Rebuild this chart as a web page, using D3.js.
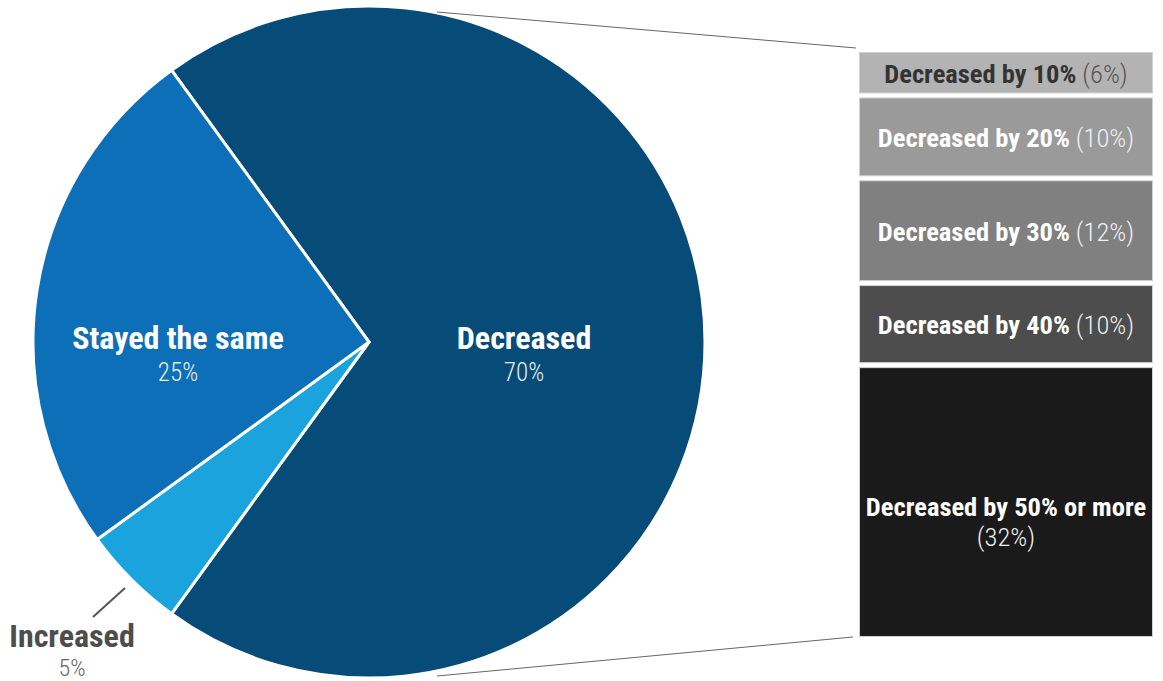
<!DOCTYPE html>
<html>
<head>
<meta charset="utf-8">
<script src="https://cdn.jsdelivr.net/npm/d3@7"></script>
<style>
  html, body { margin: 0; padding: 0; background: #fff; }
  svg text { font-family: "Roboto Condensed", "Liberation Sans Narrow", "DejaVu Sans Condensed", sans-serif; }
  .light { font-family: "Roboto Condensed", "Liberation Sans Narrow", sans-serif; font-weight: 300; }
</style>
</head>
<body>
<div id="chart"></div>
<script>
// Datos del pie
const pieLabels = ["Decreased", "Increased", "Stayed the same"];
const pieValues = [70, 5, 25];
const pieColors = ["#074b78", "#1ba3dd", "#0c6fb8"];

// Desglose de "Decreased"
const barLabels = ["Decreased by 10%", "Decreased by 20%", "Decreased by 30%", "Decreased by 40%", "Decreased by 50% or more"];
const barPct = [6, 10, 12, 10, 32];
const barShares = [5.1, 9.7, 12.4, 9.6, 33.2];
const barColors = ["#b3b3b3", "#9a9a9a", "#808080", "#4d4d4d", "#1a1a1a"];

const W = 1163, H = 681;
const cx = 369, cy = 342, r = 336;

const svg = d3.select("#chart").append("svg")
    .attr("width", W).attr("height", H);

// Pie: "Decreased" centrado a las 3 en punto
const startA = Math.PI / 2 - (pieValues[0] / 100) * Math.PI;
const pie = d3.pie().sort(null).value(d => d)
    .startAngle(startA).endAngle(startA + 2 * Math.PI);
const arcs = pie(pieValues);
const arc = d3.arc().innerRadius(0).outerRadius(r);

// Lineas de conexion hacia las cajas
const bx0 = 859, bx1 = 1153, by0 = 52, by1 = 637, gap = 4;
const g = svg.append("g").attr("transform", `translate(${cx},${cy})`);

svg.append("line")
    .attr("x1", 437).attr("y1", 12).attr("x2", 856).attr("y2", 48)
    .attr("stroke", "#666").attr("stroke-width", 1);
svg.append("line")
    .attr("x1", 437).attr("y1", 676).attr("x2", 853).attr("y2", 637)
    .attr("stroke", "#666").attr("stroke-width", 1);

g.selectAll("path").data(arcs).join("path")
    .attr("d", arc)
    .attr("fill", (d, i) => pieColors[i])
    .attr("stroke", "#fff")
    .attr("stroke-width", 3)
    .attr("stroke-linejoin", "miter");

// Etiquetas del pie
const labelPos = [[524, 338], null, [178, 338]];
arcs.forEach((d, i) => {
    if (!labelPos[i]) return;
    const [x, y] = labelPos[i];
    svg.append("text").attr("x", x).attr("y", y + 11)
        .attr("text-anchor", "middle").attr("fill", "#fff")
        .style("font-size", "32px").style("font-weight", "700")
        .text(pieLabels[i]);
    svg.append("text").attr("class", "light").attr("x", x).attr("y", y + 43)
        .attr("text-anchor", "middle").attr("fill", "#e8eef4")
        .style("font-size", "25px")
        .text(pieValues[i] + "%");
});

// "Increased" afuera con linea guia
svg.append("line")
    .attr("x1", 125).attr("y1", 588).attr("x2", 93).attr("y2", 617)
    .attr("stroke", "#555").attr("stroke-width", 2);
svg.append("text").attr("x", 72).attr("y", 647)
    .attr("text-anchor", "middle").attr("fill", "#4d4d4d")
    .style("font-size", "32px").style("font-weight", "700")
    .text(pieLabels[1]);
svg.append("text").attr("class", "light").attr("x", 72).attr("y", 676)
    .attr("text-anchor", "middle").attr("fill", "#666")
    .style("font-size", "24px")
    .text(pieValues[1] + "%");

// Cajas apiladas
const total = d3.sum(barShares);
const y = d3.scaleLinear().domain([0, total])
    .range([by0, by1 - gap * (barShares.length - 1)]);
let acc = 0;
const boxes = barShares.map((v, i) => {
    const top = y(acc) + gap * i;
    acc += v;
    const bottom = y(acc) + gap * i;
    return { i, top, bottom };
});

const bg = svg.append("g");
bg.selectAll("rect").data(boxes).join("rect")
    .attr("x", bx0 + 0.5).attr("y", d => d.top + 0.5)
    .attr("width", bx1 - bx0 - 1).attr("height", d => d.bottom - d.top - 1)
    .attr("fill", d => barColors[d.i])
    .attr("stroke", "#d0d0d0").attr("stroke-width", 1);

boxes.forEach(d => {
    const mx = (bx0 + bx1) / 2;
    const my = (d.top + d.bottom) / 2;
    const dark = d.i === 0;
    const main = dark ? "#333" : "#fff";
    const sub = dark ? "#555" : "#f0f0f0";
    if (d.i < 4) {
        const t = bg.append("text").attr("x", mx).attr("y", my + 10)
            .attr("text-anchor", "middle").style("font-size", "26.5px");
        t.append("tspan").attr("fill", main).style("font-weight", "700").text(barLabels[d.i]);
        t.append("tspan").attr("class", "light").attr("fill", sub).text(" (" + barPct[d.i] + "%)");
    } else {
        bg.append("text").attr("x", mx).attr("y", my + 14)
            .attr("text-anchor", "middle").attr("fill", main)
            .style("font-size", "26.5px").style("font-weight", "700")
            .text(barLabels[d.i]);
        bg.append("text").attr("class", "light").attr("x", mx).attr("y", my + 44)
            .attr("text-anchor", "middle").attr("fill", sub)
            .style("font-size", "26.5px")
            .text("(" + barPct[d.i] + "%)");
    }
});
</script>
</body>
</html>
